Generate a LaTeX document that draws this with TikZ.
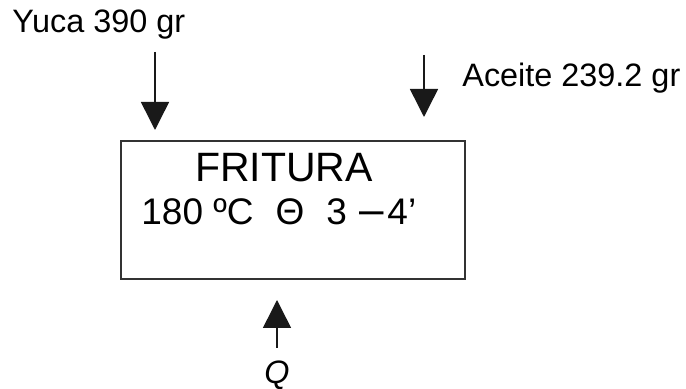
\documentclass[tikz,border=0pt]{standalone}
\usepackage{fontspec}
\setmainfont{Liberation Sans}
\usepackage{tikz}
\usetikzlibrary{arrows.meta, positioning, calc}

\tikzset{
  flecha/.style={-{Triangle[length=14pt, width=14pt]}, line width=0.75pt, black!90},
  caja/.style={draw=black!80, line width=1pt, minimum width=172pt, minimum height=69pt, inner sep=0pt},
  etiq/.style={inner sep=0pt, font=\fontsize{16.2}{19}\selectfont},
  texto/.style={inner sep=0pt, font=\fontsize{20.5}{24}\selectfont},
  cond/.style={inner sep=0pt, font=\fontsize{18.5}{22}\selectfont}
}

\begin{document}
\begin{tikzpicture}[x=0.5pt, y=-0.5pt]
      \useasboundingbox (0,0) rectangle (686,389);

      % Proceso
      \node[caja] (fritura) at (293,210) {};
      \node[texto, anchor=base] (titulo) at (284,182) {FRITURA};
      \node[cond, anchor=base west] (condic) at (141,225) {180 ºC\hspace{11pt}Θ\hspace{11pt}3\hspace{6pt}{\fontsize{22}{22}\selectfont –}\hspace{2pt}4’};

      % Entradas
      \node[etiq, anchor=base west] (yuca) at (12,33) {Yuca 390 gr};
      \coordinate (yucaini) at (155,52);
      \coordinate (yucafin) at (155,130);
      \draw[flecha] (yucaini) -- (yucafin);

      \node[etiq, anchor=base west] (aceite) at (462,87) {Aceite 239.2 gr};
      \coordinate (aceiteini) at (424,55);
      \coordinate (aceitefin) at (424,117);
      \draw[flecha] (aceiteini) -- (aceitefin);

      % Calor
      \node[etiq, anchor=base] (calor) at (277,384) {\itshape Q};
      \coordinate (calorini) at (277,348);
      \coordinate (calorfin) at (277,300);
      \draw[flecha] (calorini) -- (calorfin);
\end{tikzpicture}
\end{document}
